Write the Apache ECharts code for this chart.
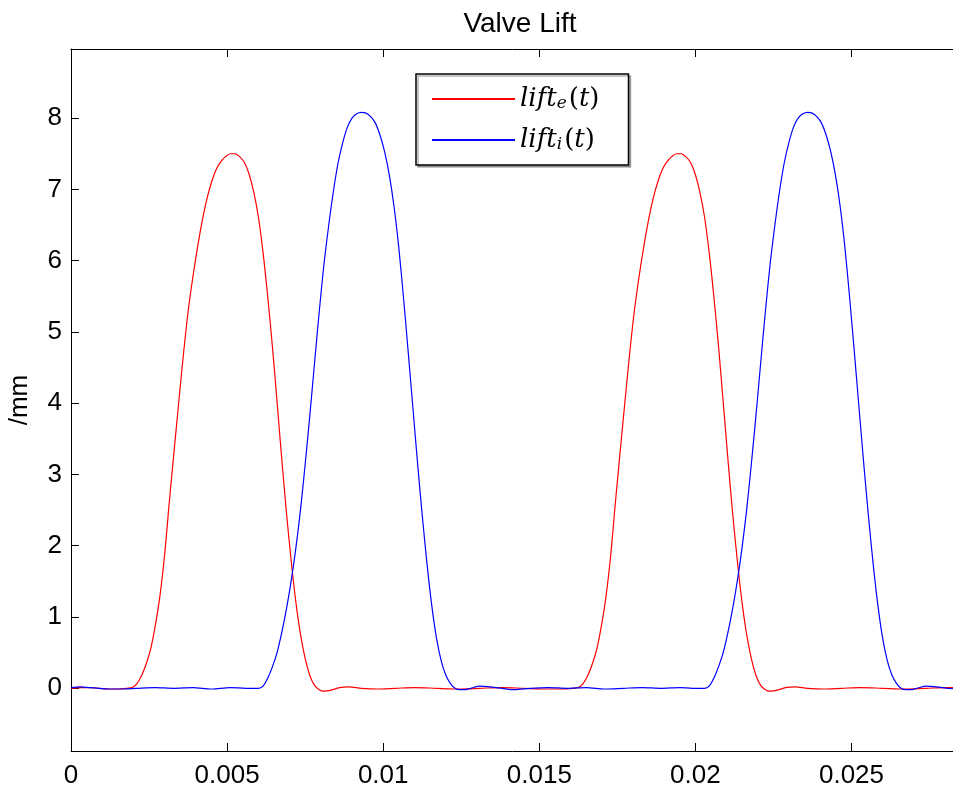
<!DOCTYPE html>
<html>
<head>
<meta charset="utf-8">
<script src="https://cdn.jsdelivr.net/npm/echarts@6/dist/echarts.min.js"></script>
<style>
html,body{margin:0;padding:0;background:#fff;}
#main{width:953px;height:792px;}
</style>
</head>
<body>
<div id="main"></div>
<script>
// Exhaust valve lift (red): time (s) and lift (mm)
var exhaustT = [
  0.0000,0.0003,0.0006,0.0009,0.0012,0.0015,
  0.00180,0.00195,0.00210,0.00225,0.00240,0.00255,0.00270,0.00285,0.00300,0.00315,0.00330,0.00345,0.00360,0.00375,0.00390,0.00405,0.00420,0.00435,0.00450,0.00465,0.00480,0.00495,0.00510,0.00525,0.00540,0.00555,0.00570,0.00585,0.00600,0.00615,0.00630,0.00645,0.00660,0.00675,0.00690,0.00705,0.00720,0.00735,0.00750,0.00765,0.00780,0.00795,0.00810,
  0.0083,0.0086,0.0089,0.0093,0.0098,0.0104,0.0110,0.0117,0.0124,0.0131,0.0138,0.0145,0.0152,0.0158,
  0.01609,0.01624,0.01639,0.01654,0.01669,0.01684,0.01699,0.01714,0.01729,0.01744,0.01759,0.01774,0.01789,0.01804,0.01819,0.01834,0.01849,0.01864,0.01879,0.01894,0.01909,0.01924,0.01939,0.01954,0.01969,0.01984,0.01999,0.02014,0.02029,0.02044,0.02059,0.02074,0.02089,0.02104,0.02119,0.02134,0.02149,0.02164,0.02179,0.02194,0.02209,0.02224,0.02239,
  0.02259,0.02289,0.02319,0.02359,0.02409,0.02469,0.02529,0.02599,0.02669,0.02739,0.02809,0.02857];
var exhaustV = [
  0.00,0.01,0.01,0.00,-0.01,-0.01,
  0.00,0.01,0.06,0.17,0.33,0.55,0.88,1.30,1.88,2.62,3.32,4.01,4.68,5.28,5.76,6.18,6.55,6.86,7.10,7.28,7.39,7.46,7.50,7.50,7.46,7.38,7.22,6.97,6.62,6.12,5.50,4.80,4.02,3.22,2.47,1.80,1.22,0.76,0.42,0.18,0.04,-0.02,-0.04,
  -0.03,0.01,0.02,0.00,-0.01,0.00,0.01,0.00,-0.01,0.00,0.01,0.00,-0.01,-0.01,
  0.00,0.01,0.06,0.17,0.33,0.55,0.88,1.30,1.88,2.62,3.32,4.01,4.68,5.28,5.76,6.18,6.55,6.86,7.10,7.28,7.39,7.46,7.50,7.50,7.46,7.38,7.22,6.97,6.62,6.12,5.50,4.80,4.02,3.22,2.47,1.80,1.22,0.76,0.42,0.18,0.04,-0.02,-0.04,
  -0.03,0.01,0.02,0.00,-0.01,0.00,0.01,0.00,-0.01,0.00,0.01,0.00];
// Intake valve lift (blue)
var intakeT = [
  0.0000,0.0003,0.0006,0.0009,0.0012,0.0016,0.0021,0.0027,0.0033,0.0039,0.0045,0.0051,0.0056,
  0.00600,0.00615,0.00630,0.00645,0.00660,0.00675,0.00690,0.00705,0.00720,0.00735,0.00750,0.00765,0.00780,0.00795,0.00810,0.00825,0.00840,0.00855,0.00870,0.00885,0.00900,0.00915,0.00930,0.00945,0.00960,0.00975,0.00990,0.01005,0.01020,0.01035,0.01050,0.01065,0.01080,0.01095,0.01110,0.01125,0.01140,0.01155,0.01170,0.01185,0.01200,0.01215,0.01230,0.01245,0.01260,
  0.0128,0.0131,0.0134,0.0138,0.0142,0.0147,0.0153,0.0159,0.0165,0.0171,0.0177,0.0183,0.0189,0.0195,0.0199,
  0.02029,0.02044,0.02059,0.02074,0.02089,0.02104,0.02119,0.02134,0.02149,0.02164,0.02179,0.02194,0.02209,0.02224,0.02239,0.02254,0.02269,0.02284,0.02299,0.02314,0.02329,0.02344,0.02359,0.02374,0.02389,0.02404,0.02419,0.02434,0.02449,0.02464,0.02479,0.02494,0.02509,0.02524,0.02539,0.02554,0.02569,0.02584,0.02599,0.02614,0.02629,0.02644,0.02659,0.02674,0.02689,
  0.02709,0.0274,0.0277,0.0281,0.02857];
var intakeV = [
  0.01,0.02,0.01,0.00,-0.01,-0.01,0.00,0.01,0.00,0.01,-0.01,0.01,0.00,
  0.00,0.03,0.14,0.30,0.50,0.78,1.11,1.50,1.96,2.50,3.14,3.83,4.56,5.28,5.94,6.48,6.96,7.36,7.65,7.87,8.00,8.06,8.08,8.07,8.02,7.93,7.76,7.52,7.19,6.75,6.18,5.48,4.72,3.94,3.16,2.43,1.76,1.18,0.72,0.40,0.19,0.07,0.00,-0.02,-0.02,
  0.00,0.03,0.02,0.00,-0.02,0.00,0.01,0.00,0.01,-0.01,0.00,0.01,0.00,0.01,0.00,
  0.00,0.03,0.14,0.30,0.50,0.78,1.11,1.50,1.96,2.50,3.14,3.83,4.56,5.28,5.94,6.48,6.96,7.36,7.65,7.87,8.00,8.06,8.08,8.07,8.02,7.93,7.76,7.52,7.19,6.75,6.18,5.48,4.72,3.94,3.16,2.43,1.76,1.18,0.72,0.40,0.19,0.07,0.00,-0.02,-0.02,
  0.00,0.03,0.02,0.00,-0.02];

var xTicks = [0,0.005,0.01,0.015,0.02,0.025];
var yTicks = [0,1,2,3,4,5,6,7,8];
var titleText = 'Valve Lift';
var yName = '/mm';
var seriesNames = ['lift_e', 'lift_i'];
var seriesSubs = ['e', 'i'];

function pairs(t, v){ return t.map(function(x,i){ return [x, v[i]]; }); }

var chart = echarts.init(document.getElementById('main'), null, {renderer:'canvas'});
var font = 'Liberation Sans, Arial, Helvetica, sans-serif';
var serif = 'DejaVu Serif, Liberation Serif, serif';
var axisLineStyle = {color:'#000', width:1};
var option = {
  animation:false,
  backgroundColor:'#fff',
  title:{text:titleText, left:515, top:5, textAlign:'center',
    textStyle:{fontFamily:font, fontSize:28, fontWeight:'normal', color:'#000'}},
  grid:{left:71, right:-10, top:49, bottom:41, containLabel:false, outerBoundsMode:'none'},
  legend:{
    orient:'vertical', left:416, top:74,
    backgroundColor:'#fff', borderColor:'#000', borderWidth:1.5,
    shadowColor:'rgba(0,0,0,0.3)', shadowOffsetX:2, shadowOffsetY:2, shadowBlur:0,
    padding:[12,29,12,16], itemGap:15, itemWidth:83, itemHeight:2,
    icon:'rect',
    formatter:function(name){
      var idx = seriesNames.indexOf(name);
      return '{i|lift}{s|' + seriesSubs[idx] + '}{n|(}{i|t}{n|)}';
    },
    textStyle:{
      rich:{
        i:{fontFamily:serif, fontStyle:'italic', fontSize:26, lineHeight:24, color:'#000'},
        n:{fontFamily:serif, fontSize:26, lineHeight:24, color:'#000'},
        s:{fontFamily:serif, fontStyle:'italic', fontSize:17, lineHeight:16, padding:[9,2,0,0], color:'#000'}
      }
    }
  },
  xAxis:[{
    type:'value', min:0, max:0.028571, interval:0.005, position:'bottom',
    axisLine:{show:true, onZero:false, lineStyle:axisLineStyle},
    axisTick:{show:true, inside:true, length:8, lineStyle:axisLineStyle},
    axisLabel:{fontFamily:font, fontSize:26, color:'#000', margin:12, showMaxLabel:false,
      formatter:function(v){ return String(+v.toFixed(3)); }},
    splitLine:{show:false}
  },{
    type:'value', min:0, max:0.028571, interval:0.005, position:'top',
    axisLine:{show:true, onZero:false, lineStyle:axisLineStyle},
    axisTick:{show:true, inside:true, length:8, lineStyle:axisLineStyle},
    axisLabel:{show:false}, splitLine:{show:false}
  }],
  yAxis:[{
    type:'value', min:-0.88, max:8.97,
    name:yName, nameLocation:'middle', nameGap:38, nameRotate:90,
    nameTextStyle:{fontFamily:font, fontSize:26, color:'#000'},
    axisLine:{show:true, onZero:false, lineStyle:axisLineStyle},
    axisTick:{show:true, inside:true, length:8, lineStyle:axisLineStyle, customValues:yTicks},
    axisLabel:{fontFamily:font, fontSize:26, color:'#000', margin:9, customValues:yTicks},
    splitLine:{show:false}
  }],
  series:[{
    name:seriesNames[0], type:'line', data:pairs(exhaustT, exhaustV),
    showSymbol:false, symbol:'none', smooth:0.3,
    lineStyle:{color:'#ff0000', width:1.2}, itemStyle:{color:'#ff0000'}
  },{
    name:seriesNames[1], type:'line', data:pairs(intakeT, intakeV),
    showSymbol:false, symbol:'none', smooth:0.3,
    lineStyle:{color:'#0000ff', width:1.2}, itemStyle:{color:'#0000ff'}
  }]
};
chart.setOption(option);
</script>
</body>
</html>
